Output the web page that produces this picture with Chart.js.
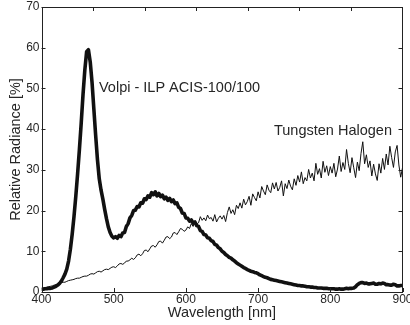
<!DOCTYPE html>
<html>
<head>
<meta charset="utf-8">
<script src="https://cdn.jsdelivr.net/npm/chart.js@4/dist/chart.umd.min.js"></script>
<style>
  html, body { margin: 0; padding: 0; background: #fff; }
  #chart { display: block; }
</style>
</head>
<body>
<canvas id="chart" width="410" height="325"></canvas>
<script>
// ---------------------------------------------------------------------------
// Data (2.5 nm steps from 400 to 900)
// ---------------------------------------------------------------------------

const wavelengths = [];
for (let w = 400; w <= 900; w += 2.5) wavelengths.push(w);

const volpi = [
  0.8, 0.7, 0.8, 0.8, 0.9, 0.9, 1.0, 1.2, 1.4, 1.7,          // 400
  2.1, 2.7, 3.5, 4.4, 5.6, 7.6, 10.5, 14.2, 18.5, 23.5,      // 425
  29.0, 35.0, 41.5, 48.5, 54.5, 59.0, 59.5, 56.5, 51.5, 45.0, // 450
  38.5, 32.5, 27.8, 25.0, 22.8, 20.3, 18.0, 16.0, 14.6, 13.7, // 475
  13.3, 13.6, 13.2, 13.9, 13.6, 14.5, 14.6, 16.1, 16.8, 18.2, // 500
  18.8, 20.0, 20.1, 21.0, 20.9, 21.9, 21.8, 22.9, 22.7, 23.6, // 525
  23.3, 24.4, 23.9, 24.6, 23.6, 24.2, 23.4, 23.8, 22.9, 23.3, // 550
  22.5, 23.0, 22.2, 22.6, 21.7, 21.9, 20.8, 20.5, 19.4, 19.3, // 575
  18.2, 18.1, 17.4, 17.7, 16.9, 17.2, 16.3, 16.1, 15.1, 14.9, // 600
  14.1, 14.0, 13.3, 13.2, 12.6, 12.4, 11.7, 11.5, 10.9, 10.6, // 625
  10.0, 9.7, 9.2, 8.9, 8.5, 8.3, 7.9, 7.6, 7.2, 6.9,          // 650
  6.6, 6.3, 6.0, 5.8, 5.5, 5.3, 5.1, 5.0, 4.8, 4.7,           // 675
  4.5, 4.2, 4.0, 3.8, 3.6, 3.5, 3.3, 3.1, 3.0, 2.9,           // 700
  2.8, 2.7, 2.6, 2.5, 2.4, 2.3, 2.2, 2.1, 2.0, 1.9,           // 725
  1.8, 1.7, 1.6, 1.6, 1.5, 1.5, 1.4, 1.3, 1.3, 1.2,           // 750
  1.2, 1.1, 1.1, 1.0, 1.0, 1.0, 0.9, 0.9, 0.9, 0.8,           // 775
  0.8, 0.8, 0.8, 0.7, 0.7, 0.8, 0.7, 0.7, 0.8, 0.9,           // 800
  0.8, 0.9, 0.9, 1.0, 1.3, 1.8, 2.1, 2.3, 2.3, 2.1,           // 825
  2.2, 2.0, 2.0, 2.1, 2.2, 1.9, 1.9, 2.1, 2.0, 2.2,           // 850
  2.1, 1.8, 1.8, 1.7, 1.7, 1.9, 1.8, 1.5, 1.5, 1.6,           // 875
  1.6                                                         // 900
];

const tungsten = [
  0.9, 1.0, 1.1, 1.2, 1.3, 1.4, 1.5, 1.7, 1.8, 1.9,           // 400
  2.0, 2.3, 2.4, 2.4, 2.6, 2.8, 2.9, 3.0, 3.1, 3.3,           // 425
  3.4, 3.4, 3.6, 3.8, 3.9, 3.9, 4.1, 4.4, 4.5, 4.4,           // 450
  4.7, 5.0, 5.1, 4.9, 5.2, 5.5, 5.6, 5.5, 5.8, 6.1,           // 475
  6.2, 6.0, 6.4, 6.9, 7.0, 6.8, 7.1, 7.6, 7.6, 7.9,           // 500
  8.3, 8.0, 8.4, 9.1, 9.3, 8.9, 9.4, 10.2, 10.3, 9.9,         // 525
  10.6, 11.3, 11.4, 11.0, 11.6, 12.4, 12.5, 12.0, 12.7, 13.5, // 550
  13.6, 13.1, 13.5, 14.5, 14.6, 14.1, 14.8, 15.6, 15.4, 14.9, // 575
  15.2, 16.0, 15.6, 16.8, 16.1, 17.3, 16.6, 17.0, 18.5, 17.6, // 600
  18.2, 17.5, 18.9, 18.0, 18.3, 17.4, 19.0, 17.2, 18.1, 18.7, // 625
  17.9, 18.8, 17.3, 19.5, 20.9, 19.3, 20.2, 19.0, 21.3, 20.5, // 650
  21.9, 20.6, 22.8, 21.4, 22.2, 23.5, 21.3, 24.1, 23.2, 22.4, // 675
  24.6, 23.1, 25.9, 24.8, 23.9, 26.3, 25.0, 24.4, 26.8, 25.3, // 700
  26.9, 24.8, 25.7, 27.3, 23.6, 26.6, 25.4, 27.5, 26.0, 25.1, // 725
  27.8, 26.2, 28.6, 27.0, 29.5, 26.6, 28.1, 27.3, 30.1, 28.0, // 750
  29.2, 27.3, 31.6, 28.9, 30.3, 28.0, 32.1, 29.4, 31.0, 28.6, // 775
  30.8, 29.2, 31.6, 28.3, 30.2, 33.4, 29.6, 31.8, 30.1, 35.0, // 800
  31.6, 29.3, 33.0, 30.5, 28.1, 31.9, 29.8, 34.0, 36.9, 31.5, // 825
  33.7, 30.6, 32.2, 28.5, 31.4, 29.0, 27.4, 31.5, 29.2, 32.8, // 850
  30.1, 33.9, 31.2, 35.8, 33.0, 30.6, 34.4, 36.0, 31.2, 28.2, // 875
  30.5                                                        // 900
];

const xTicks = [400, 500, 600, 700, 800, 900];
const yTicks = [0, 10, 20, 30, 40, 50, 60, 70];

// curve labels, placed in data units
const labels = [
  { text: 'Volpi - ILP ACIS-100/100', x: 479.6, y: 49.1 },
  { text: 'Tungsten Halogen', x: 722, y: 38.5 },
];

const INK = '#111';
const TEXT = '#262626';
const FONT = 'Arial, "Liberation Sans", Helvetica, sans-serif';

// ---------------------------------------------------------------------------
// Frame with inward ticks, and curve labels
// ---------------------------------------------------------------------------

const framePlugin = {
  id: 'frame',
  afterDatasetsDraw(chart) {
    const { ctx, chartArea: a, scales: { x, y } } = chart;
    const tl = 4;
    ctx.save();
    ctx.strokeStyle = '#222';
    ctx.lineWidth = 1;
    ctx.strokeRect(Math.round(a.left) + 0.5, Math.round(a.top) + 0.5,
                   Math.round(a.right - a.left) - 1, Math.round(a.bottom - a.top));
    ctx.beginPath();
    yTicks.forEach(v => {
      const py = Math.round(y.getPixelForValue(v)) + 0.5;
      ctx.moveTo(a.left, py); ctx.lineTo(a.left + tl, py);
      ctx.moveTo(a.right, py); ctx.lineTo(a.right - tl, py);
    });
    xTicks.forEach(v => {
      const px = Math.round(x.getPixelForValue(v)) + 0.5;
      ctx.moveTo(px, a.bottom); ctx.lineTo(px, a.bottom - tl);
    });
    // top edge carries 7 divisions in the original figure
    for (let k = 1; k < 7; k++) {
      const px = Math.round(x.getPixelForValue(400 + k * 500 / 7)) + 0.5;
      ctx.moveTo(px, a.top); ctx.lineTo(px, a.top + tl);
    }
    ctx.stroke();

    ctx.fillStyle = TEXT;
    ctx.font = '14.5px ' + FONT;
    ctx.textBaseline = 'alphabetic';
    ctx.textAlign = 'left';
    labels.forEach(l => ctx.fillText(l.text, x.getPixelForValue(l.x), y.getPixelForValue(l.y)));
    ctx.restore();
  }
};

new Chart(document.getElementById('chart'), {
  type: 'line',
  data: {
    datasets: [
      { label: 'Volpi', data: wavelengths.map((w, i) => ({ x: w, y: volpi[i] })),
        borderColor: INK, borderWidth: 3.6, pointRadius: 0, tension: 0, borderJoinStyle: 'round' },
      { label: 'Tungsten Halogen', data: wavelengths.map((w, i) => ({ x: w, y: tungsten[i] })),
        borderColor: INK, borderWidth: 1, pointRadius: 0, tension: 0 },
    ]
  },
  options: {
    responsive: false,
    animation: false,
    events: [],
    layout: { padding: { top: 7, right: 7.5, bottom: 0, left: 0 } },
    plugins: { legend: { display: false }, tooltip: { enabled: false } },
    scales: {
      x: {
        type: 'linear', min: 400, max: 900,
        afterBuildTicks(s) { s.ticks = xTicks.map(v => ({ value: v })); },
        afterFit(s) { s.height = 33; s.paddingLeft = 0; s.paddingRight = 0; },
        grid: { display: false, drawTicks: false },
        border: { display: false },
        ticks: { padding: 0, color: TEXT, font: { family: FONT, size: 12 }, maxRotation: 0, autoSkip: false },
        title: { display: true, text: 'Wavelength [nm]', color: TEXT,
                 font: { family: FONT, size: 14.5 }, padding: { top: 0, bottom: 3 } }
      },
      y: {
        min: 0, max: 70,
        afterBuildTicks(s) { s.ticks = yTicks.map(v => ({ value: v })); },
        afterFit(s) { s.width = 41.5; s.paddingTop = 0; s.paddingBottom = 0; },
        grid: { display: false, drawTicks: false },
        border: { display: false },
        ticks: { padding: 2, color: TEXT, font: { family: FONT, size: 12 } },
        title: { display: true, text: 'Relative Radiance [%]', color: TEXT,
                 font: { family: FONT, size: 14.5 }, padding: { top: 7, bottom: 0 } }
      }
    }
  },
  plugins: [framePlugin]
});
</script>
</body>
</html>
